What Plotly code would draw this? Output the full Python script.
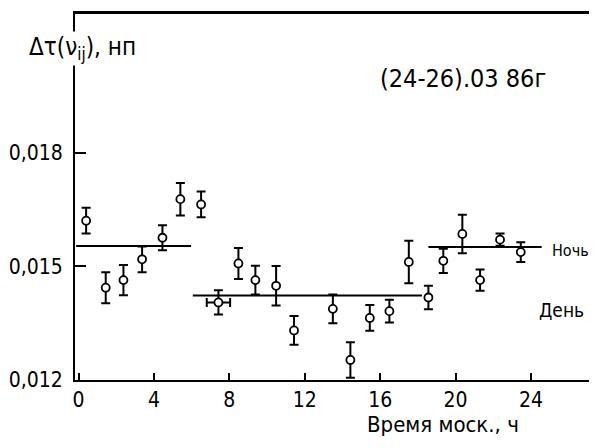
import plotly.graph_objects as go

# ---- data ----
hours = [0.40, 1.44, 2.38, 3.37, 4.45, 5.40, 6.50, 7.42, 8.48, 9.38, 10.48, 11.43,
         13.49, 14.42, 15.45, 16.49, 17.52, 18.56, 19.35, 20.36, 21.30, 22.36, 23.46]
values = [0.01621, 0.01444, 0.01464, 0.01519, 0.01576, 0.01678, 0.01664, 0.01405,
          0.01508, 0.01464, 0.01449, 0.01331, 0.01388, 0.01253, 0.01364, 0.01382,
          0.01512, 0.01418, 0.01515, 0.01586, 0.01464, 0.01571, 0.01538]
errors = [0.00034, 0.00041, 0.00040, 0.00034, 0.00033, 0.00043, 0.00034, 0.00032,
          0.00041, 0.00038, 0.00052, 0.00038, 0.00038, 0.00047, 0.00034, 0.00030,
          0.00056, 0.00031, 0.00032, 0.00051, 0.00028, 0.00016, 0.00026]
hour_err = [0, 0, 0, 0, 0, 0, 0, 0.62, 0, 0, 0, 0,
            0, 0, 0, 0, 0, 0, 0, 0, 0, 0, 0]

seg_start = [-0.13, 6.06, 18.56]
seg_end = [5.97, 18.22, 24.57]
seg_level = [0.01554, 0.014236, 0.015514]

x_ticks = [0, 4, 8, 12, 16, 20, 24]
y_ticks = [0.012, 0.015, 0.018]
y_ticktext = ["0,012", "0,015", "0,018"]

FONT = "DejaVu Sans Condensed, Liberation Sans, sans-serif"

seg_x, seg_y = [], []
for s, e, l in zip(seg_start, seg_end, seg_level):
    seg_x += [s, e, None]
    seg_y += [l, l, None]

fig = go.Figure()
fig.add_trace(go.Scatter(x=seg_x, y=seg_y, mode="lines",
                         line=dict(color="black", width=2), hoverinfo="skip",
                         showlegend=False))
fig.add_trace(go.Scatter(
    x=hours, y=values, mode="markers",
    marker=dict(symbol="circle", size=8, color="white",
                line=dict(color="black", width=1.8)),
    error_y=dict(type="data", array=errors, visible=True, color="black",
                 thickness=2, width=4.5),
    error_x=dict(type="data", array=hour_err, visible=True, color="black",
                 thickness=2, width=4.5),
    showlegend=False))

# page has an 8px body margin: figure sized so the page does not scroll
fig.update_layout(
    width=581, height=432,
    margin=dict(l=67, r=0, t=5, b=60, autoexpand=False),
    paper_bgcolor="white", plot_bgcolor="white",
    font=dict(family=FONT, color="black", size=22),
    xaxis=dict(range=[-0.19, 27.08], tickvals=x_ticks, ticks="inside", ticklen=7,
               tickwidth=2, tickcolor="black", showgrid=False, zeroline=False,
               showline=True, linecolor="black", linewidth=2, mirror=True,
               tickfont=dict(size=21), ticklabelstandoff=0, automargin=False),
    yaxis=dict(range=[0.012, 0.0217], tickvals=y_ticks, ticktext=y_ticktext,
               ticks="inside", ticklen=11, tickwidth=2, tickcolor="black",
               showgrid=False, zeroline=False, showline=True, linecolor="black",
               linewidth=2, tickfont=dict(size=21), ticklabelstandoff=6,
               automargin=False),
    shapes=[dict(type="line", xref="paper", yref="paper", x0=0, x1=1, y0=1, y1=1,
                 line=dict(color="black", width=2))],
)

fig.add_annotation(text="Δτ(ν<sub>ij</sub>), нп", xref="paper", yref="paper",
                   x=-0.0934, y=0.9046, xanchor="left", yanchor="middle",
                   showarrow=False, font=dict(size=24), bgcolor="white")
fig.add_annotation(text="(24-26).03 86г", xref="x", yref="y", x=20.37, y=0.019957,
                   xanchor="center", yanchor="middle", showarrow=False,
                   font=dict(size=25))
fig.add_annotation(text="Ночь", xref="x", yref="y", x=25.0, y=0.015417,
                   xanchor="left", yanchor="middle", showarrow=False,
                   font=dict(size=16))
fig.add_annotation(text="День", xref="x", yref="y", x=24.3, y=0.013852,
                   xanchor="left", yanchor="middle", showarrow=False,
                   font=dict(size=19))
fig.add_annotation(text="Время моск., ч", xref="x", yref="paper", x=19.36, y=-0.1226,
                   xanchor="center", yanchor="middle", showarrow=False,
                   font=dict(size=22))

fig.write_html("out.html")
